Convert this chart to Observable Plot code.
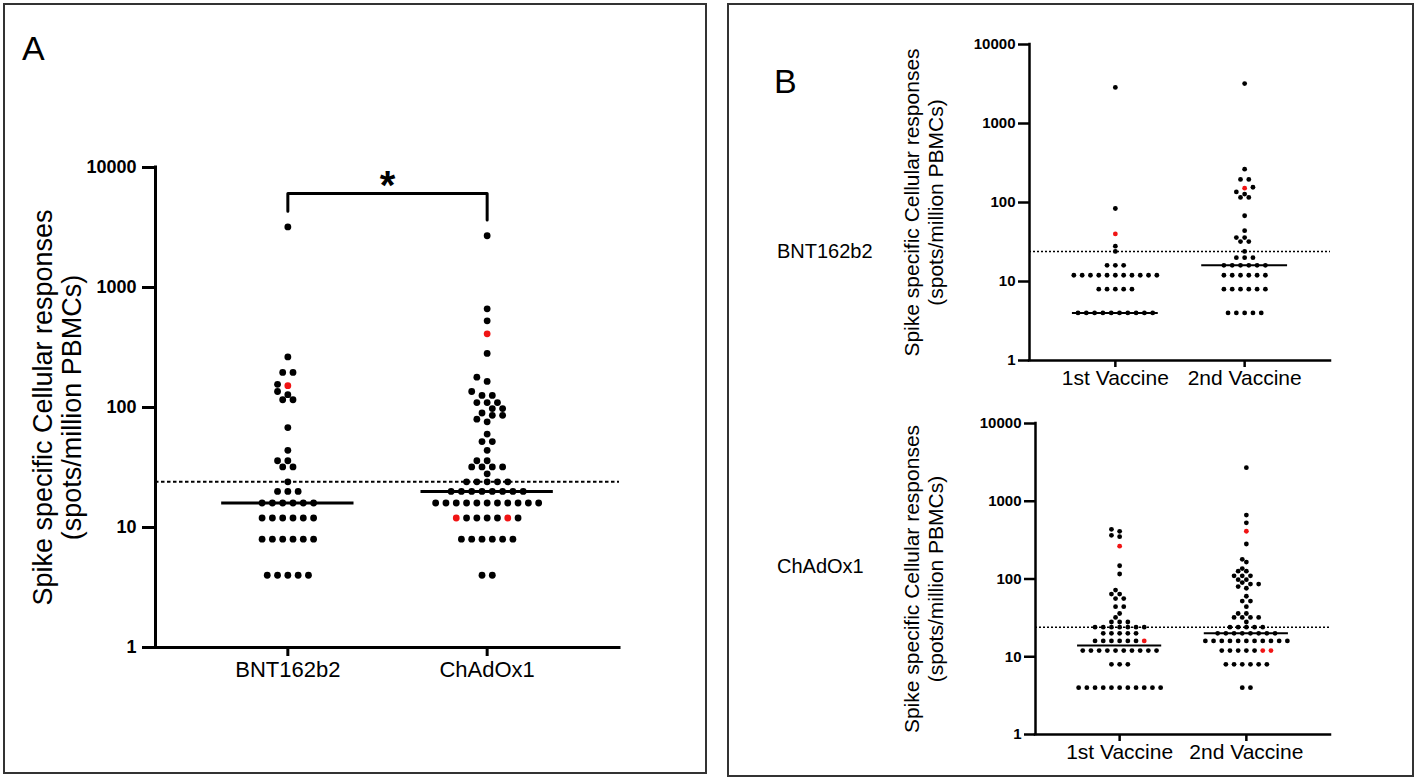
<!DOCTYPE html>
<html>
<head>
<meta charset="utf-8">
<script src="https://cdn.jsdelivr.net/npm/d3@7"></script>
<script src="https://cdn.jsdelivr.net/npm/@observablehq/plot@0.6"></script>
<style>
  html, body { margin: 0; padding: 0; background: #fff; }
  #root { position: relative; width: 1418px; height: 781px; overflow: hidden; font-family: "Liberation Sans", Arial, sans-serif; color: #000; }
  .box { position: absolute; border: 2px solid #333; box-sizing: border-box; }
  .letter { position: absolute; font-size: 34px; line-height: 1; }
  .rowlab { position: absolute; font-size: 20px; line-height: 1; }
  .plot { position: absolute; }
  .plot svg { overflow: visible; }
</style>
</head>
<body>
<div id="root">
  <div class="box" style="left:3px;top:3px;width:704px;height:771px;"></div>
  <div class="box" style="left:727px;top:3px;width:687px;height:774px;"></div>
  <div class="letter" style="left:22px;top:31px;">A</div>
  <div class="letter" style="left:774px;top:64px;">B</div>
  <div class="rowlab" style="left:777px;top:241px;">BNT162b2</div>
  <div class="rowlab" style="left:777px;top:556px;">ChAdOx1</div>
  <div class="plot" id="pA" style="left:0px;top:0px;"></div>
  <div class="plot" id="pB1" style="left:880px;top:0px;"></div>
  <div class="plot" id="pB2" style="left:880px;top:400px;"></div>
</div>
<script>
// ---------------- data ----------------
const vaccines = ["BNT162b2", "ChAdOx1"];
const doses = ["1st Vaccine", "2nd Vaccine"];
const yTicks = [1, 10, 100, 1000, 10000];
const threshold = 24;
const yLabel1 = "Spike specific Cellular responses";
const yLabel2 = "(spots/million PBMCs)";
const sigLabel = "*";

// BNT162b2 after 1st dose (spots/million PBMCs)
const bntDose1 = [4,4,4,4,4,4,4,4,4,4, 8,8,8,8,8, 12,12,12,12,12,12,12,12,12,12,12, 16,16,16, 24, 28, 40, 84, 2860];
const bntDose1Red = [40];
// BNT162b2 after 2nd dose
const bntDose2 = [4,4,4,4,4, 8,8,8,8,8,8, 12,12,12,12,12,12, 16,16,16,16,16,16, 20,20,20, 24, 32,32, 36,36, 44, 68, 116,116, 128, 136, 152, 156, 196,196, 264, 3200];
const bntDose2Red = [152];
// ChAdOx1 after 1st dose
const chadDose1 = [4,4,4,4,4,4,4,4,4,4,4, 8,8,8, 12,12,12,12,12,12,12,12,12,12, 16,16,16,16,16,16,16, 20,20,20,20,20, 24,24,24,24,24,24,24, 28,28,28, 32, 36, 44,44, 56,56, 64,64, 72, 116, 148, 264, 350, 364, 410, 436];
const chadDose1Red = [16, 264];
// ChAdOx1 after 2nd dose
const chadDose2 = [4,4, 8,8,8,8,8,8, 12,12,12,12,12,12,12, 16,16,16,16,16,16,16,16,16,16,16, 20,20,20,20,20,20,20,20, 24,24,24,24,24, 28, 32,32,32,32, 36,36, 44, 52,52, 60, 76, 80, 86,86, 90, 98,98, 110,110,110, 126,126, 136, 165, 179, 282, 411, 528, 664, 2700];
const chadDose2Red = [12, 12, 411];

// horizontal lines (median)
const medianA = [16, 20];
const medianBnt = [4, 16];
const medianChad = [14, 20];

// ---------------- layout helpers ----------------
const X0 = 0.336, X1 = 2.664;
const fontFam = "'Liberation Sans', Arial, sans-serif";

// centred rows of identical values, dodged against previously placed dots
function swarm(values, reds, ci, pxPerDecade, pxPerUnit, step, minDist, redSpread) {
  const items = values.map(v => ({v, red: false}));
  for (const rv of reds) {
    const cand = items.filter(d => d.v === rv && !d.red);
    if (cand.length) cand[cand.length - 1].red = true;
  }
  const groups = d3.groups(items, d => d.v).sort((a, b) => a[0] - b[0]);
  const placed = [];
  const out = [];
  for (const [v, g0] of groups) {
    let g = g0.filter(d => !d.red);
    const rs = g0.filter(d => d.red);
    if (redSpread && rs.length > 1) {
      g = [rs[0], ...g.slice(0, g.length - 1), rs[1], ...g.slice(g.length - 1), ...rs.slice(2)];
    } else {
      g = [...g, ...rs];
    }
    const py = pxPerDecade * Math.log10(v);
    const n = g.length;
    let chosen = 0;
    for (let k = 0; k < 80; k++) {
      const off = k === 0 ? 0 : (k % 2 ? -1 : 1) * Math.ceil(k / 2) * step / 2;
      const xs = g.map((_, i) => off + (i - (n - 1) / 2) * step);
      const ok = xs.every(x => placed.every(p => (p.x - x) ** 2 + (p.y - py) ** 2 >= minDist * minDist - 0.01));
      if (ok) { chosen = off; break; }
    }
    g.forEach((d, i) => {
      const x = chosen + (i - (n - 1) / 2) * step;
      placed.push({x, y: py});
      out.push({v: d.v, red: d.red, cat: ci, x: ci + x / pxPerUnit});
    });
  }
  return out;
}

function makePanel(o) {
  const plotW = o.width - o.marginLeft - o.marginRight;
  const plotH = o.height - o.marginTop - o.marginBottom;
  const ux = plotW / (X1 - X0);
  const dec = plotH / 4;
  const recs = o.groups.flatMap((g, i) => swarm(g.values, g.reds, i + 1, dec, ux, o.step, 2 * o.r, o.redSpread));
  const meds = o.medians.map((m, i) => ({m, i: i + 1}));
  const marks = [
    Plot.ruleY([threshold], {strokeDasharray: o.dash, strokeWidth: o.dashW, stroke: "#000"}),
    Plot.ruleY(meds, {y: "m", x1: d => d.i - 0.332, x2: d => d.i + 0.332, strokeWidth: o.medW, stroke: "#000"}),
    Plot.dot(recs.filter(d => !d.red), {x: "x", y: "v", r: o.r, fill: "#000"}),
    Plot.dot(recs.filter(d => d.red), {x: "x", y: "v", r: o.r, fill: "#f01414"}),
    Plot.ruleX([X0], {strokeWidth: o.axisW, stroke: "#000", strokeLinecap: "square"}),
    Plot.ruleY([1], {strokeWidth: o.axisW, stroke: "#000", strokeLinecap: "square"}),
    Plot.axisY({ticks: yTicks, tickFormat: d3.format("d"), tickSize: o.yTickSize, tickPadding: o.yTickPad,
      strokeWidth: o.axisW, fontSize: o.yFont, fontWeight: "bold", label: null, stroke: "#000", fill: "#000"}),
    Plot.axisX({ticks: [1, 2], tickFormat: i => o.cats[i - 1], tickSize: o.xTickSize, tickPadding: o.xTickPad,
      strokeWidth: o.axisW, fontSize: o.xFont, label: null, stroke: "#000", fill: "#000"}),
    Plot.text([yLabel1 + "\n" + yLabel2], {frameAnchor: "left", rotate: -90, dx: o.labelDx, dy: o.labelDy,
      lineAnchor: "middle", textAnchor: "middle", fontSize: o.labelFont, fill: "#000", lineHeight: o.labelLH})
  ];
  if (o.sig) {
    const maxes = o.groups.map(g => d3.max(g.values));
    const top = d3.max(maxes) * 1.9;
    const pts = [{x: 1, y: maxes[0] * 1.35}, {x: 1, y: top}, {x: 2, y: top}, {x: 2, y: maxes[1] * 1.35}];
    marks.push(Plot.line(pts, {x: "x", y: "y", strokeWidth: o.axisW, stroke: "#000"}));
    marks.push(Plot.text([sigLabel], {x: () => 1.5, y: () => top, text: d => d, fontSize: 40, fontWeight: "bold",
      lineAnchor: "middle", dy: -7, fill: "#000"}));
  }
  return Plot.plot({
    width: o.width, height: o.height,
    marginLeft: o.marginLeft, marginRight: o.marginRight, marginTop: o.marginTop, marginBottom: o.marginBottom,
    x: {domain: [X0, X1], axis: null},
    y: {type: "log", domain: [1, 10000], axis: null},
    style: {fontFamily: fontFam, color: "#000", background: "transparent", overflow: "visible"},
    marks
  });
}

// Panel A
document.getElementById("pA").append(makePanel({
  width: 710, height: 700, marginLeft: 155, marginRight: 91, marginTop: 167, marginBottom: 53,
  groups: [{values: bntDose2, reds: bntDose2Red}, {values: chadDose2, reds: chadDose2Red}],
  cats: vaccines, medians: medianA, r: 3.4, step: 10.3, redSpread: true,
  dash: "3.5,2.5", dashW: 2, medW: 3, axisW: 3,
  yTickSize: 13, yTickPad: 6, yFont: 18, xTickSize: 9, xTickPad: 5, xFont: 22,
  labelDx: -98, labelDy: 0, labelFont: 27, labelLH: 1.05, sig: true
}));

// Panel B top: BNT162b2
document.getElementById("pB1").append(makePanel({
  width: 480, height: 395, marginLeft: 149, marginRight: 30, marginTop: 44, marginBottom: 35,
  groups: [{values: bntDose1, reds: bntDose1Red}, {values: bntDose2, reds: bntDose2Red}],
  cats: doses, medians: medianBnt, r: 2.4, step: 8.3, redSpread: false,
  dash: "2,2", dashW: 1.5, medW: 2, axisW: 2.5,
  yTickSize: 11, yTickPad: 3, yFont: 15, xTickSize: 7, xTickPad: 3, xFont: 21,
  labelDx: -106, labelDy: 0, labelFont: 21, labelLH: 1.15, sig: false
}));

// Panel B bottom: ChAdOx1
document.getElementById("pB2").append(makePanel({
  width: 480, height: 381, marginLeft: 155, marginRight: 30, marginTop: 23, marginBottom: 47,
  groups: [{values: chadDose1, reds: chadDose1Red}, {values: chadDose2, reds: chadDose2Red}],
  cats: doses, medians: medianChad, r: 2.4, step: 8.2, redSpread: false,
  dash: "2,2", dashW: 1.5, medW: 2, axisW: 2.5,
  yTickSize: 11, yTickPad: 3, yFont: 15, xTickSize: 7, xTickPad: 3, xFont: 21,
  labelDx: -112, labelDy: 0, labelFont: 21, labelLH: 1.15, sig: false
}));
</script>
</body>
</html>
